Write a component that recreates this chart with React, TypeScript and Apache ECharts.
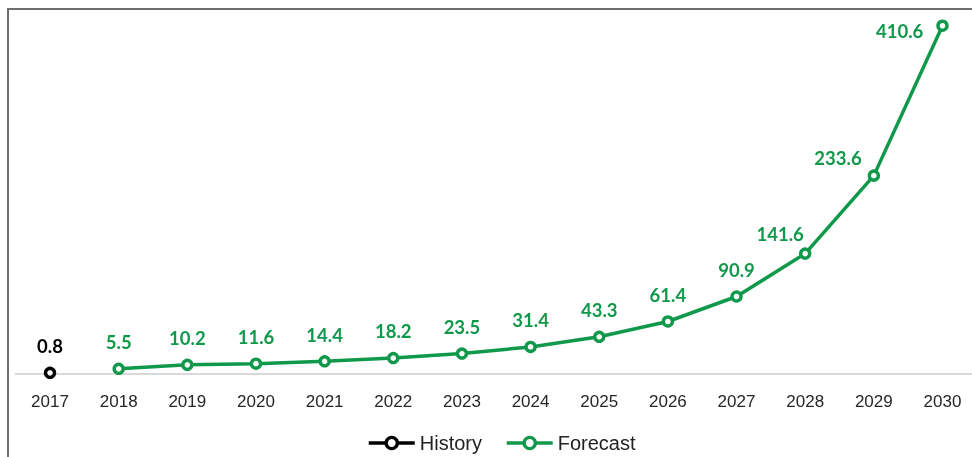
import React, { useEffect, useRef } from "react";
import * as echarts from "echarts";

const years = ["2017", "2018", "2019", "2020", "2021", "2022", "2023", "2024", "2025", "2026", "2027", "2028", "2029", "2030"];
const historyValues = [0.8];
const forecastValues = [5.5, 10.2, 11.6, 14.4, 18.2, 23.5, 31.4, 43.3, 61.4, 90.9, 141.6, 233.6, 410.6];

const GREEN = "#10994a";
const BLACK = "#000000";

export default function App() {
  const ref = useRef<HTMLDivElement>(null);

  useEffect(() => {
    if (!ref.current) return;
    const chart = echarts.init(ref.current, undefined, { renderer: "svg" });

    const histData: (number | null)[] = years.map((_, i) => (i < historyValues.length ? historyValues[i] : null));
    const offset = years.length - forecastValues.length;
    const foreData: any[] = years.map((_, i) => (i >= offset ? forecastValues[i - offset] : null));

    // per-point label placement tweaks for the steep end of the curve
    const labelTweaks: Record<string, any> = {
      "2028": { position: "top", distance: 11, offset: [-25, 7] },
      "2029": { position: "left", distance: 6, offset: [0, -18] },
      "2030": { position: "left", distance: 13, offset: [0, 5] },
    };
    const foreSeriesData = foreData.map((v, i) => {
      const t = labelTweaks[years[i]];
      if (v === null || !t) return v;
      return { value: v, label: t };
    });

    const labelBase = {
      show: true,
      position: "top",
      distance: 11,
      fontFamily: "Lato",
      fontWeight: "bold",
      fontSize: 18.5,
      formatter: (p: any) => Number(p.value).toFixed(1),
    };

    chart.setOption({
      animation: false,
      grid: { left: 15.7, right: 13.2, top: 2.5, bottom: 83.5 },
      legend: {
        left: 367,
        top: 433,
        padding: 0,
        itemWidth: 46,
        itemHeight: 14,
        itemGap: 23,
        lineStyle: { width: 3.5 },
        itemStyle: { borderWidth: 3.3 },
        textStyle: { fontFamily: "Liberation Sans", fontSize: 20, color: "#222" },
        data: ["History", "Forecast"],
      },
      xAxis: {
        type: "category",
        data: years,
        boundaryGap: true,
        axisLine: { show: true, lineStyle: { color: "#d9d9d9", width: 2 } },
        axisTick: { show: false },
        axisLabel: { margin: 19, fontFamily: "Liberation Sans", fontSize: 17, color: "#262626" },
      },
      yAxis: {
        type: "value",
        min: 0,
        max: 438,
        show: false,
        splitLine: { show: false },
      },
      series: [
        {
          name: "History",
          type: "line",
          data: histData,
          symbol: "circle",
          symbolSize: 9,
          itemStyle: { color: "#ffffff", borderColor: BLACK, borderWidth: 3.4 },
          lineStyle: { color: BLACK, width: 3.5 },
          label: { ...labelBase, color: BLACK },
          z: 3,
        },
        {
          name: "Forecast",
          type: "line",
          data: foreSeriesData,
          symbol: "circle",
          symbolSize: 9,
          itemStyle: { color: "#ffffff", borderColor: GREEN, borderWidth: 3.4 },
          lineStyle: { color: GREEN, width: 3.5 },
          label: { ...labelBase, color: GREEN },
          z: 3,
        },
      ],
    });

    return () => chart.dispose();
  }, []);

  return (
    <div>
      <div
        style={{
          position: "fixed",
          left: 7,
          top: 8,
          width: 990,
          height: 470,
          borderTop: "2px solid #6e6e6e",
          borderLeft: "2px solid #6e6e6e",
          boxSizing: "border-box",
        }}
      />
      <div
        ref={ref}
        style={{ position: "fixed", left: 0, top: 0, width: 990, height: 457 }}
      />
    </div>
  );
}
